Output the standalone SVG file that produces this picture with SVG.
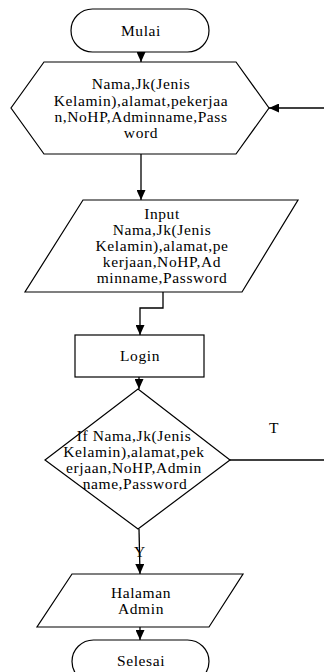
<svg xmlns="http://www.w3.org/2000/svg" width="324" height="672" viewBox="0 0 324 672">
<style>
.shape{fill:#fff;stroke:#000;stroke-width:1.2}
.conn{fill:none;stroke:#000;stroke-width:1.3}
text{font-family:"Liberation Serif","Times New Roman",serif;font-size:15.5px;fill:#000;text-anchor:middle;letter-spacing:0.6px}
</style>
<defs>
<marker id="arr" markerUnits="userSpaceOnUse" markerWidth="10" markerHeight="9" refX="10" refY="4.5" orient="auto">
<path d="M0,0 L10,4.5 L0,9 z" fill="#000"/>
</marker>
</defs>
<rect width="324" height="672" fill="#fff"/>
<g id="connectors">
<line class="conn" x1="141" y1="52" x2="141" y2="62" marker-end="url(#arr)"/>
<line class="conn" x1="141" y1="154" x2="141" y2="200" marker-end="url(#arr)"/>
<line class="conn" x1="324" y1="108" x2="269" y2="108" marker-end="url(#arr)"/>
<polyline class="conn" points="163,292 163,308 140,308 140,335" marker-end="url(#arr)"/>
<line class="conn" x1="139" y1="377" x2="139" y2="389" marker-end="url(#arr)"/>
<line class="conn" x1="230" y1="460" x2="324" y2="460"/>
<line class="conn" x1="139" y1="529" x2="140" y2="574" marker-end="url(#arr)"/>
<line class="conn" x1="140" y1="627" x2="140" y2="640" marker-end="url(#arr)"/>
<text x="274" y="433">T</text>
<text x="140" y="557">Y</text>
</g>
<g id="mulai">
<rect class="shape" x="71" y="9" width="138" height="43" rx="21.5"/>
<text x="141" y="36">Mulai</text>
</g>
<g id="data">
<polygon class="shape" points="44,62 236,62 269,108 236,154 44,154 11,108"/>
<text x="141" y="89">Nama,Jk(Jenis</text>
<text x="141" y="106">Kelamin),alamat,pekerjaa</text>
<text x="141" y="122">n,NoHP,Adminname,Pass</text>
<text x="141" y="138">word</text>
</g>
<g id="input">
<polygon class="shape" points="83,200 298,200 242,292 25,292"/>
<text x="162" y="219">Input</text>
<text x="162" y="235">Nama,Jk(Jenis</text>
<text x="162" y="251">Kelamin),alamat,pe</text>
<text x="162" y="267">kerjaan,NoHP,Ad</text>
<text x="162" y="283">minname,Password</text>
</g>
<g id="login">
<rect class="shape" x="75" y="335" width="129" height="42"/>
<text x="140" y="361">Login</text>
</g>
<g id="decision">
<polygon class="shape" points="138,389 230,460 138,529 45,460"/>
<text x="134" y="441">If Nama,Jk(Jenis</text>
<text x="134" y="457">Kelamin),alamat,pek</text>
<text x="134" y="473">erjaan,NoHP,Admin</text>
<text x="135" y="489">name,Password</text>
</g>
<g id="halaman">
<polygon class="shape" points="72,574 243,574 209,627 37,627"/>
<text x="141" y="598">Halaman</text>
<text x="141" y="614">Admin</text>
</g>
<g id="selesai">
<rect class="shape" x="72" y="640" width="137" height="43" rx="21.5"/>
<text x="141" y="666">Selesai</text>
</g>
</svg>
